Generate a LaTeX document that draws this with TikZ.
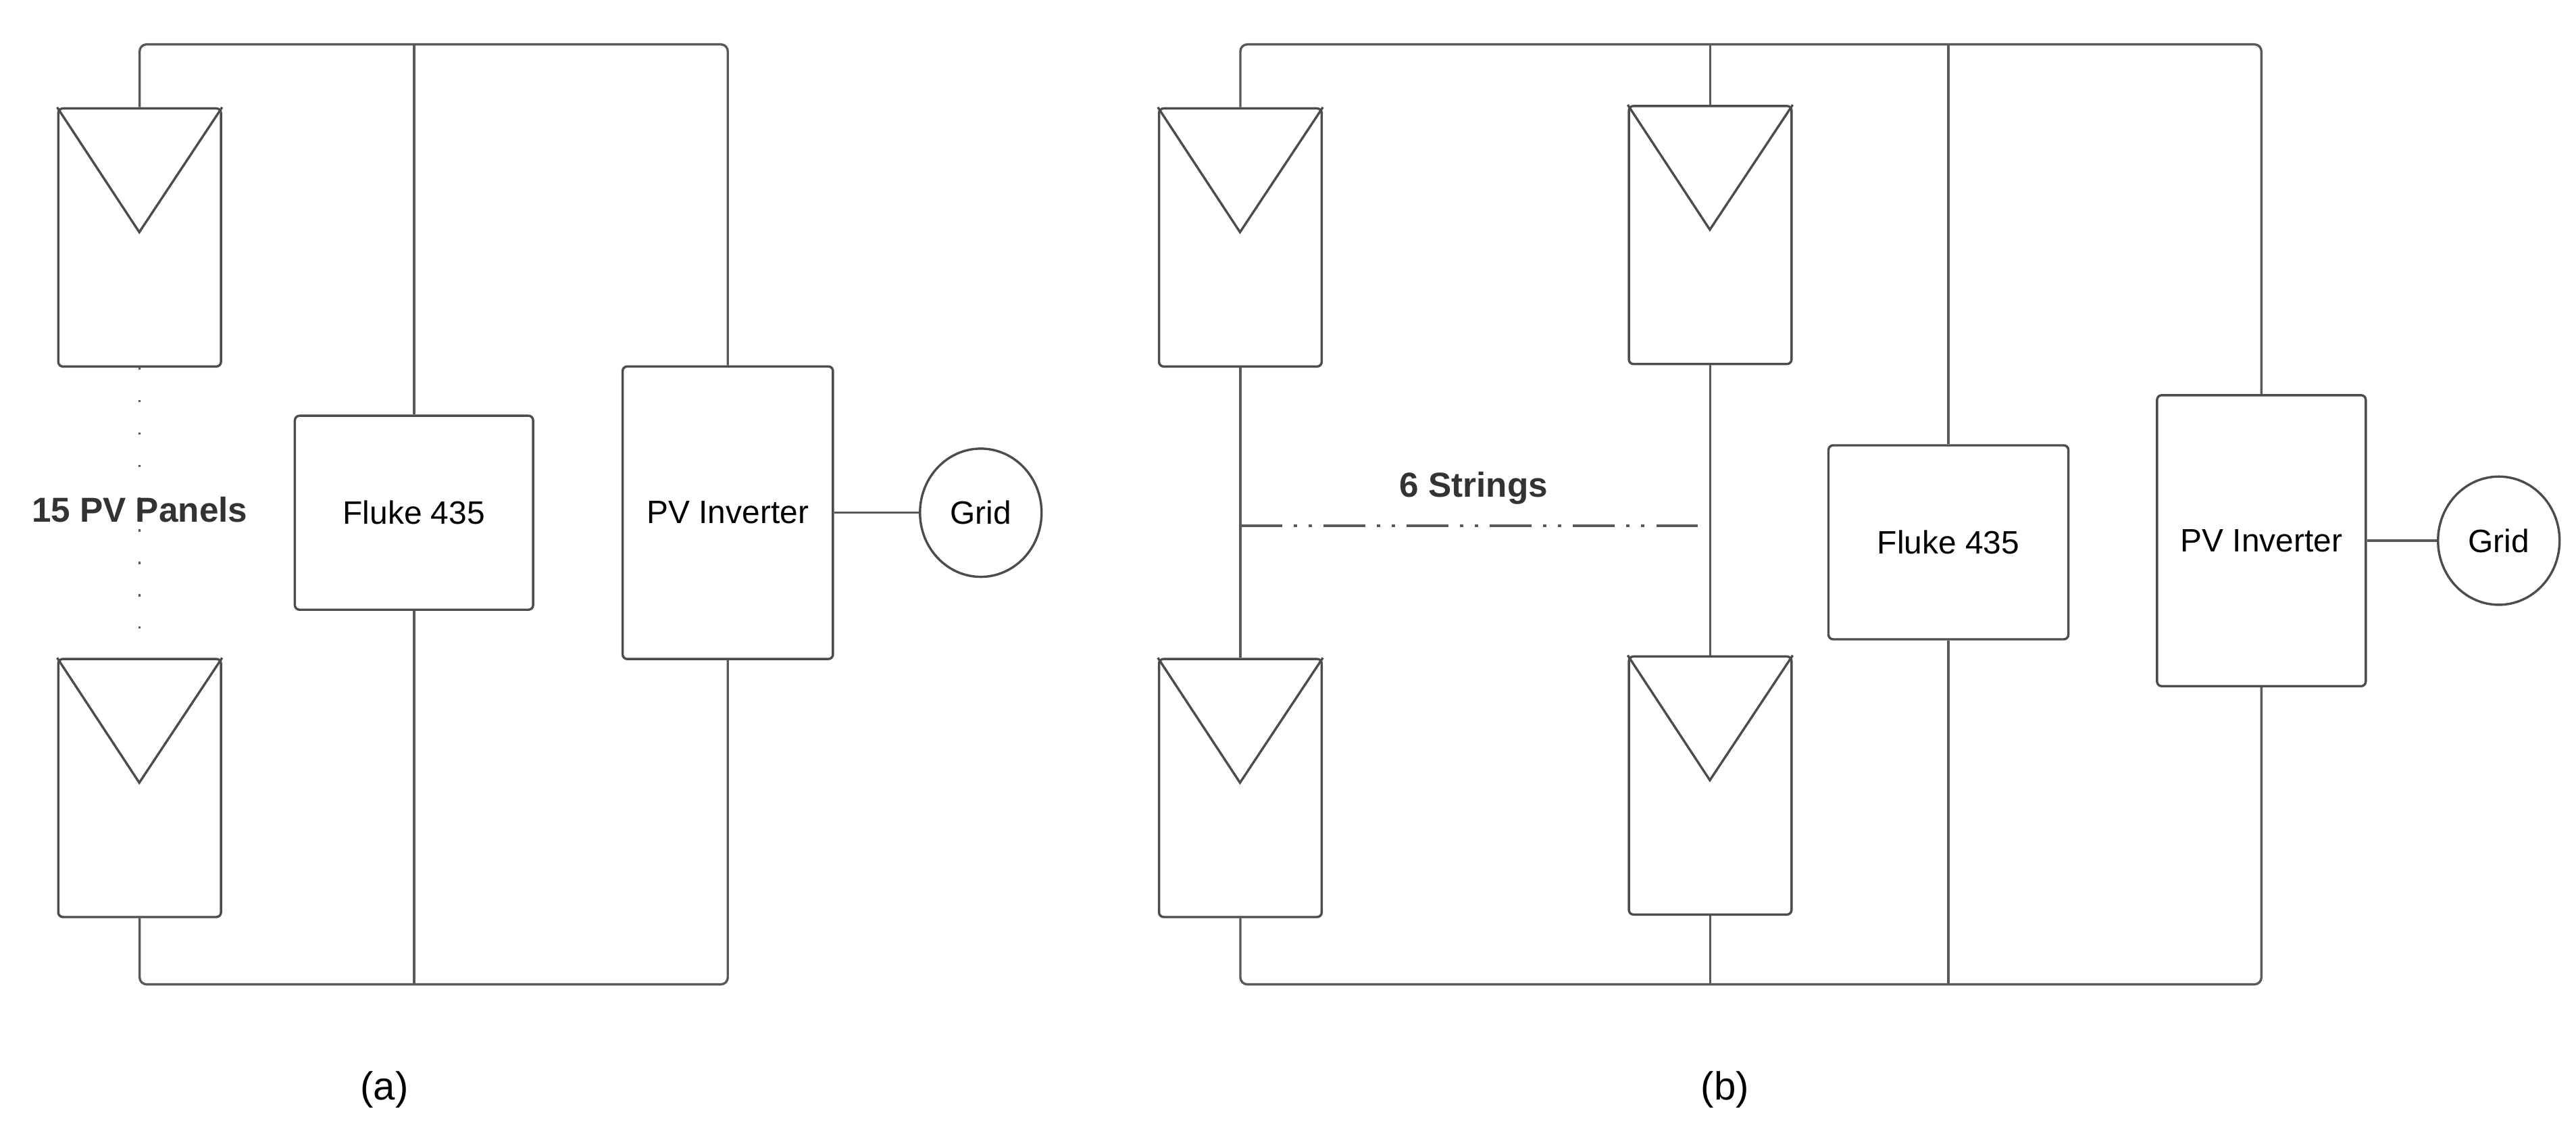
\documentclass[tikz,border=0pt]{standalone}
\usepackage{fontspec}
\setmainfont{Liberation Sans}
\usetikzlibrary{positioning}
\usetikzlibrary{shapes.geometric}
\begin{document}
\begin{tikzpicture}[x=0.025cm,y=-0.025cm,line width=1pt,
	wire/.style={draw=black!65,rounded corners=3pt},
	panel/.style={draw=black!70,rounded corners=2pt,minimum width=2.475cm,minimum height=3.925cm,inner sep=0},
	box/.style={draw=black!70,rounded corners=2pt,inner sep=0,font=\fontsize{14}{16}\selectfont},
	grid/.style={draw=black!70,ellipse,minimum width=1.85cm,minimum height=1.95cm,inner sep=0,font=\fontsize{14}{16}\selectfont},
	lbl/.style={font=\bfseries\fontsize{15}{18}\selectfont,text=black!80}
]
\useasboundingbox (0,0) rectangle (1568,691);
% (a) single string
\node[panel] (pa1) at (85,144.5) {};
\node[panel] (pa2) at (85,479.5) {};
\node[box,minimum width=3.625cm,minimum height=2.95cm] (fla) at (252,312) {Fluke 435};
\node[box,minimum width=3.2cm,minimum height=4.45cm] (inva) at (443,312) {PV Inverter};
\node[grid] (gra) at (597,312) {Grid};
\coordinate (ta) at (85,27);
\coordinate (ba) at (85,599);
\foreach \p in {pa1,pa2}
	\draw[black!70] (\p.north west) -- ++(50,76) -- (\p.north east);
\draw[wire] (pa1.north) -- (ta) -| (inva.north);
\draw[wire] (pa2.south) -- (ba) -| (inva.south);
\draw[wire] (fla.north) -- (fla.north |- ta);
\draw[wire] (fla.south) -- (fla.south |- ba);
\draw[black!65,dash pattern=on 1pt off 13pt] (pa1.south) -- (pa2.north);
\draw[black!65] (inva.east) -- (gra.west);
\node[lbl] (sa) at (85,310) {15 PV Panels};
\node[font=\fontsize{17}{20}\selectfont] (capa) at (234,663) {(a)};
% (b) parallel strings
\node[panel] (pb1) at (755,144.5) {};
\node[panel] (pb2) at (755,479.5) {};
\node[panel] (pb3) at (1041,143) {};
\node[panel] (pb4) at (1041,478) {};
\node[box,minimum width=3.65cm,minimum height=2.95cm] (flb) at (1186,330) {Fluke 435};
\node[box,minimum width=3.175cm,minimum height=4.425cm] (invb) at (1376.5,329) {PV Inverter};
\node[grid] (grb) at (1521,329) {Grid};
\coordinate (tb) at (755,27);
\coordinate (bb) at (755,599);
\foreach \p in {pb1,pb2,pb3,pb4}
	\draw[black!70] (\p.north west) -- ++(50,76) -- (\p.north east);
\draw[wire] (pb1.north) -- (tb) -| (invb.north);
\draw[wire] (pb2.south) -- (bb) -| (invb.south);
\draw[wire] (pb1.south) -- (pb2.north);
\draw[wire] (pb3.south) -- (pb4.north);
\draw[wire] (pb3.north) -- (pb3.north |- tb);
\draw[wire] (pb4.south) -- (pb4.south |- bb);
\draw[wire] (flb.north) -- (flb.north |- tb);
\draw[wire] (flb.south) -- (flb.south |- bb);
\coordinate (db) at (755,320);
\draw[black!65,dash pattern=on 18pt off 5pt on 1.5pt off 5pt on 1.5pt off 5pt] (db) -- (db -| pb3.south);
\draw[black!65] (invb.east) -- (grb.west);
\node[lbl] (sb) at (897,297) {6 Strings};
\node[font=\fontsize{17}{20}\selectfont] (capb) at (1050,663) {(b)};
\end{tikzpicture}
\end{document}
